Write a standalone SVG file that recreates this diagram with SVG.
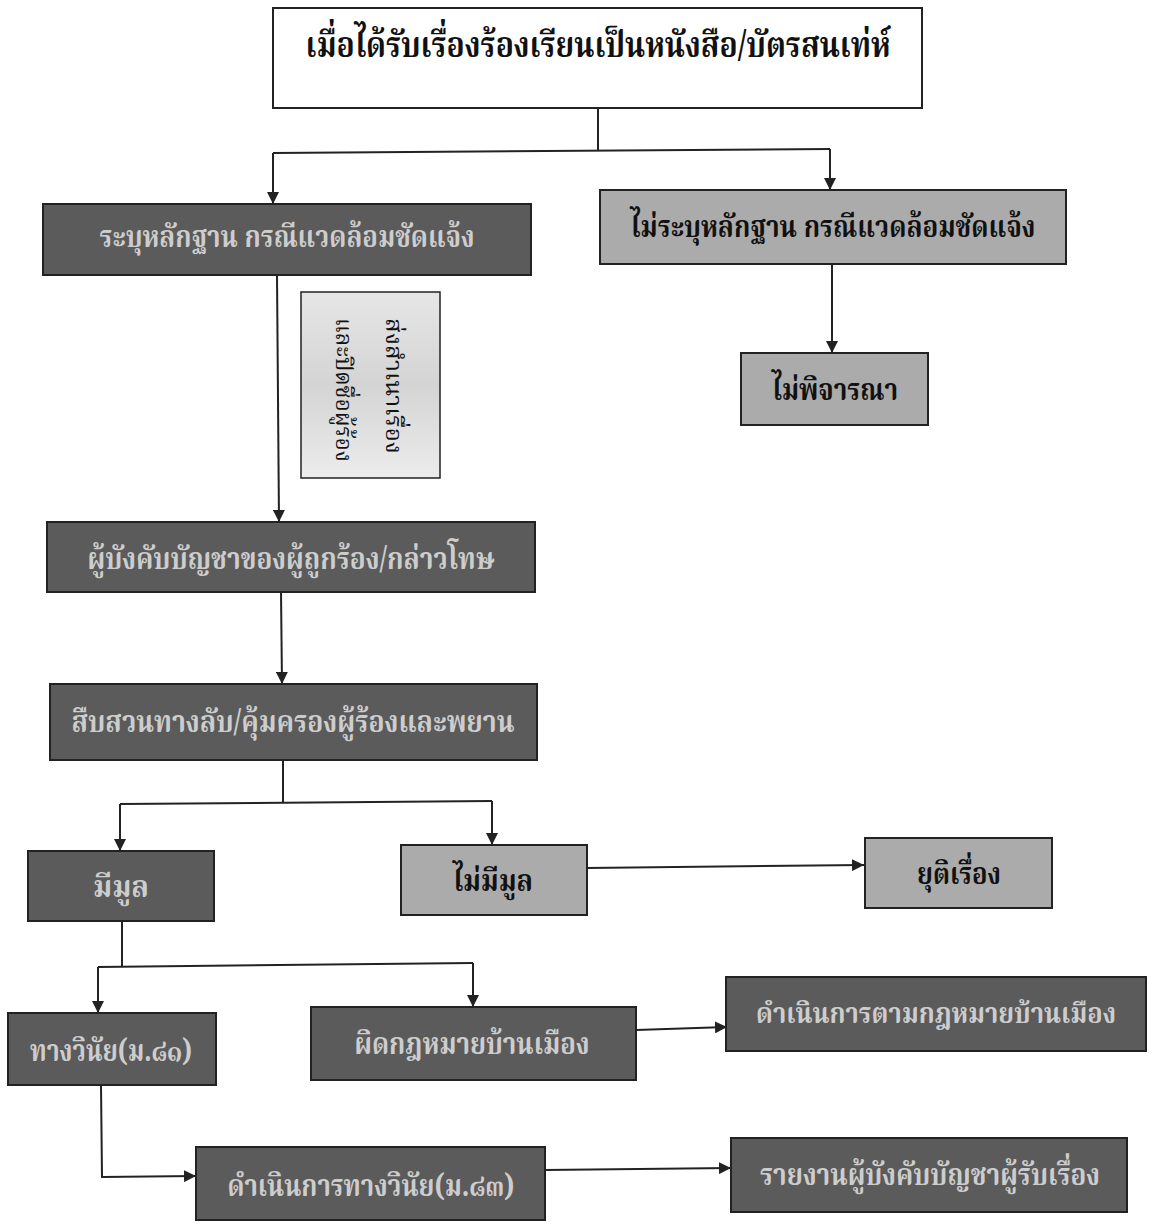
<svg xmlns="http://www.w3.org/2000/svg" width="1153" height="1224" viewBox="0 0 1153 1224">
<defs>
<marker id="arr" viewBox="0 0 10 10" refX="10" refY="5" markerWidth="12" markerHeight="12" markerUnits="userSpaceOnUse" orient="auto">
<path d="M0,0 L10,5 L0,10 Z" fill="#222"/>
</marker>
<linearGradient id="pale" x1="0" y1="0" x2="0" y2="1">
<stop offset="0" stop-color="#e6e6e6"/>
<stop offset="0.5" stop-color="#d4d4d4"/>
<stop offset="1" stop-color="#ececec"/>
</linearGradient>
</defs>
<style>
.box{stroke:#222;stroke-width:2}
.dark{fill:#5b5b5b}
.light{fill:#ababab}
.white{fill:#ffffff}
text{font-family:"Noto Serif Thai","Noto Sans Thai","Loma","Garuda","Noto Sans","DejaVu Sans",sans-serif;text-anchor:middle;dominant-baseline:central;font-weight:bold}
.tl{fill:#cdcdcd;font-size:30px}
.td{fill:#111;font-size:30px}
.note{fill:#111;font-size:23px;font-weight:normal}
.conn{fill:none;stroke:#222;stroke-width:2}
</style>
<rect width="1153" height="1224" fill="#ffffff"/>
<g id="connectors">
<path class="conn" d="M598,108 L598,151"/>
<path class="conn" d="M273,153 L830,149"/>
<path class="conn" d="M273,153 L273,204" marker-end="url(#arr)"/>
<path class="conn" d="M830,149 L830,190" marker-end="url(#arr)"/>
<path class="conn" d="M832,265 L832,353" marker-end="url(#arr)"/>
<path class="conn" d="M277,275 L279,522" marker-end="url(#arr)"/>
<path class="conn" d="M281,592 L282,684" marker-end="url(#arr)"/>
<path class="conn" d="M283,760 L283,803"/>
<path class="conn" d="M120,804 L492,801"/>
<path class="conn" d="M120,804 L120,851" marker-end="url(#arr)"/>
<path class="conn" d="M492,801 L492,845" marker-end="url(#arr)"/>
<path class="conn" d="M587,868 L864,865" marker-end="url(#arr)"/>
<path class="conn" d="M122,921 L122,966"/>
<path class="conn" d="M98,967 L473,963"/>
<path class="conn" d="M98,967 L98,1013" marker-end="url(#arr)"/>
<path class="conn" d="M473,963 L473,1007" marker-end="url(#arr)"/>
<path class="conn" d="M636,1030 L727,1027" marker-end="url(#arr)"/>
<path class="conn" d="M101,1085 L102,1177 L196,1176" marker-end="url(#arr)"/>
<path class="conn" d="M545,1170 L731,1168" marker-end="url(#arr)"/>
</g>
<g id="n-start">
<rect class="box white" x="273" y="8" width="649" height="100"/>
<text x="598" y="47" style="fill:#111;font-size:36px" textLength="585" lengthAdjust="spacingAndGlyphs">เมื่อได้รับเรื่องร้องเรียนเป็นหนังสือ/บัตรสนเท่ห์</text>
</g>
<g id="n-evidence">
<rect class="box dark" x="43" y="204" width="488" height="71"/>
<text x="287" y="239" class="tl" textLength="375" lengthAdjust="spacingAndGlyphs">ระบุหลักฐาน กรณีแวดล้อมชัดแจ้ง</text>
</g>
<g id="n-noevidence">
<rect class="box light" x="600" y="190" width="466" height="74"/>
<text x="833" y="229" class="td" textLength="405" lengthAdjust="spacingAndGlyphs">ไม่ระบุหลักฐาน กรณีแวดล้อมชัดแจ้ง</text>
</g>
<g id="n-reject">
<rect class="box light" x="741" y="353" width="187" height="72"/>
<text x="835" y="392" class="td" textLength="126" lengthAdjust="spacingAndGlyphs">ไม่พิจารณา</text>
</g>
<g id="n-note">
<rect x="301" y="292" width="139" height="186" fill="url(#pale)" stroke="#222" stroke-width="1.5"/>
<text transform="translate(392,386) rotate(90)" class="note" textLength="136" lengthAdjust="spacingAndGlyphs">ส่งสำเนาเรื่อง</text>
<text transform="translate(342,390) rotate(90)" class="note" textLength="144" lengthAdjust="spacingAndGlyphs">และปิดชื่อผู้ร้อง</text>
</g>
<g id="n-supervisor">
<rect class="box dark" x="47" y="522" width="488" height="70"/>
<text x="291" y="561" class="tl" textLength="407" lengthAdjust="spacingAndGlyphs">ผู้บังคับบัญชาของผู้ถูกร้อง/กล่าวโทษ</text>
</g>
<g id="n-investigate">
<rect class="box dark" x="50" y="684" width="487" height="76"/>
<text x="293" y="724" class="tl" textLength="443" lengthAdjust="spacingAndGlyphs">สืบสวนทางลับ/คุ้มครองผู้ร้องและพยาน</text>
</g>
<g id="n-grounds">
<rect class="box dark" x="28" y="851" width="186" height="70"/>
<text x="121" y="889" class="tl" textLength="56" lengthAdjust="spacingAndGlyphs">มีมูล</text>
</g>
<g id="n-nogrounds">
<rect class="box light" x="401" y="845" width="186" height="70"/>
<text x="493" y="883" class="td" textLength="80" lengthAdjust="spacingAndGlyphs">ไม่มีมูล</text>
</g>
<g id="n-end">
<rect class="box light" x="865" y="838" width="187" height="70"/>
<text x="959" y="876" class="td" textLength="84" lengthAdjust="spacingAndGlyphs">ยุติเรื่อง</text>
</g>
<g id="n-discipline">
<rect class="box dark" x="8" y="1013" width="208" height="72"/>
<text x="111" y="1053" class="tl" textLength="162" lengthAdjust="spacingAndGlyphs">ทางวินัย(ม.๘๑)</text>
</g>
<g id="n-law">
<rect class="box dark" x="311" y="1007" width="325" height="73"/>
<text x="472" y="1046" class="tl" textLength="235" lengthAdjust="spacingAndGlyphs">ผิดกฎหมายบ้านเมือง</text>
</g>
<g id="n-lawaction">
<rect class="box dark" x="726" y="977" width="420" height="74"/>
<text x="936" y="1015" class="tl" style="font-size:28px" textLength="360" lengthAdjust="spacingAndGlyphs">ดำเนินการตามกฎหมายบ้านเมือง</text>
</g>
<g id="n-disciplineaction">
<rect class="box dark" x="196" y="1147" width="349" height="73"/>
<text x="371" y="1188" class="tl" textLength="287" lengthAdjust="spacingAndGlyphs">ดำเนินการทางวินัย(ม.๘๓)</text>
</g>
<g id="n-report">
<rect class="box dark" x="731" y="1138" width="396" height="74"/>
<text x="930" y="1177" class="tl" textLength="340" lengthAdjust="spacingAndGlyphs">รายงานผู้บังคับบัญชาผู้รับเรื่อง</text>
</g>
</svg>
